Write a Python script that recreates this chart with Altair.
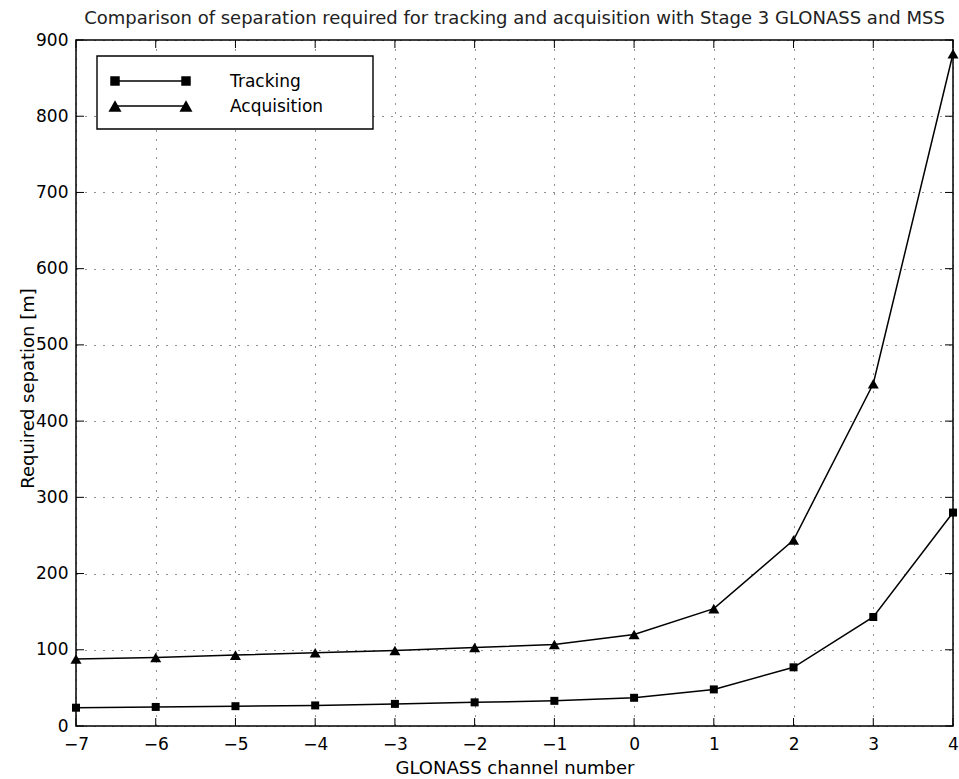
import altair as alt
import pandas as pd

# ---- data ----
CHANNELS = [-7, -6, -5, -4, -3, -2, -1, 0, 1, 2, 3, 4]
TRACKING = [24, 25, 26, 27, 29, 31, 33, 37, 48, 77, 143, 280]
ACQUISITION = [88, 90, 93, 96, 99, 103, 107, 120, 154, 244, 449, 882]
SERIES = ["Tracking", "Acquisition"]
X_TICKS = [-7, -6, -5, -4, -3, -2, -1, 0, 1, 2, 3, 4]
Y_TICKS = [0, 100, 200, 300, 400, 500, 600, 700, 800, 900]
TITLE = "Comparison of separation required for tracking and acquisition with Stage 3 GLONASS and MSS"
X_TITLE = "GLONASS channel number"
Y_TITLE = "Required sepation [m]"

W, H = 877, 686
FONT = "DejaVu Sans"
TICK = 8

df = pd.DataFrame({
    "channel": CHANNELS * 2,
    "value": TRACKING + ACQUISITION,
    "series": [SERIES[0]] * len(CHANNELS) + [SERIES[1]] * len(CHANNELS),
})

x_scale = alt.Scale(domain=[X_TICKS[0], X_TICKS[-1]], nice=False, zero=False)
y_scale = alt.Scale(domain=[Y_TICKS[0], Y_TICKS[-1]], nice=False)

x_axis = alt.Axis(values=X_TICKS, format="d", ticks=False, domain=False, grid=True,
                  labelPadding=10, labelFontSize=17, labelFlush=False,
                  titleFontSize=18, titleY=47, titleBaseline="alphabetic")
y_axis = alt.Axis(values=Y_TICKS, format="d", ticks=False, domain=False, grid=True,
                  labelPadding=8, labelFontSize=17, labelFlush=False,
                  titleFontSize=18, titleX=-43, titleY=H / 2 + 5, titleBaseline="alphabetic")

X = alt.X("channel:Q", scale=x_scale, axis=x_axis, title=X_TITLE)
Y = alt.Y("value:Q", scale=y_scale, axis=y_axis, title=Y_TITLE)

lines = alt.Chart(df).mark_line(color="black", strokeWidth=1.5).encode(
    x=X, y=Y, detail="series:N",
)

def pts(name, shape, size):
    return alt.Chart(df).transform_filter(alt.datum.series == name).mark_point(
        filled=True, color="black", opacity=1, shape=shape, size=size
    ).encode(x=X, y=Y)

pts_track = pts(SERIES[0], "square", 64)
pts_acq = pts(SERIES[1], "triangle-up", 121)

# inward ticks on all four sides (MATLAB box style)
tx = pd.DataFrame({"channel": X_TICKS})
ty = pd.DataFrame({"value": Y_TICKS})
tick_style = dict(color="black", strokeWidth=1)
ticks_bottom = alt.Chart(tx).mark_rule(**tick_style).encode(
    x=X, y=alt.value(H), y2=alt.value(H - TICK))
ticks_top = alt.Chart(tx).mark_rule(**tick_style).encode(
    x=X, y=alt.value(0), y2=alt.value(TICK))
ticks_left = alt.Chart(ty).mark_rule(**tick_style).encode(
    y=Y, x=alt.value(0), x2=alt.value(TICK))
ticks_right = alt.Chart(ty).mark_rule(**tick_style).encode(
    y=Y, x=alt.value(W), x2=alt.value(W - TICK))

# ---- legend (MATLAB-style box) ----
box = alt.Chart(pd.DataFrame({"k": [0]})).mark_rect(
    fill="white", stroke="black", strokeWidth=1.4
).encode(x=alt.value(21), x2=alt.value(297), y=alt.value(16), y2=alt.value(89))

def legend_entry(name, shape, size, yc):
    d = pd.DataFrame({"label": [name]})
    base = alt.Chart(d)
    rule = base.mark_rule(color="black", strokeWidth=1.5).encode(
        x=alt.value(39), x2=alt.value(110), y=alt.value(yc))
    m1 = base.mark_point(filled=True, color="black", opacity=1, shape=shape, size=size).encode(
        x=alt.value(39), y=alt.value(yc))
    m2 = base.mark_point(filled=True, color="black", opacity=1, shape=shape, size=size).encode(
        x=alt.value(110), y=alt.value(yc))
    txt = base.mark_text(align="left", baseline="alphabetic", font=FONT, fontSize=17,
                         color="black").encode(
        x=alt.value(154), y=alt.value(yc + 6), text="label:N")
    return [rule, m1, m2, txt]

legend_layers = [box] + legend_entry(SERIES[0], "square", 90, 41) + \
    legend_entry(SERIES[1], "triangle-up", 170, 66)

chart = alt.layer(
    lines, ticks_bottom, ticks_top, ticks_left, ticks_right,
    pts_track, pts_acq, *legend_layers
).properties(
    width=W,
    height=H,
    title=alt.TitleParams(TITLE, font=FONT, fontSize=18, fontWeight="normal",
                          color="#222222", offset=3, anchor="middle"),
    autosize=alt.AutoSizeParams(type="none"),
    padding={"left": 76, "top": 40, "right": 6, "bottom": 53},
).configure_view(
    stroke="black", strokeWidth=1.5
).configure_axis(
    labelFont=FONT, titleFont=FONT, labelColor="black", titleColor="black",
    titleFontWeight="normal", gridColor="black", gridDash=[1, 8], gridWidth=1,
    gridOpacity=0.85,
)

chart.save("out.html", embed_options={"renderer": "svg", "actions": False})
